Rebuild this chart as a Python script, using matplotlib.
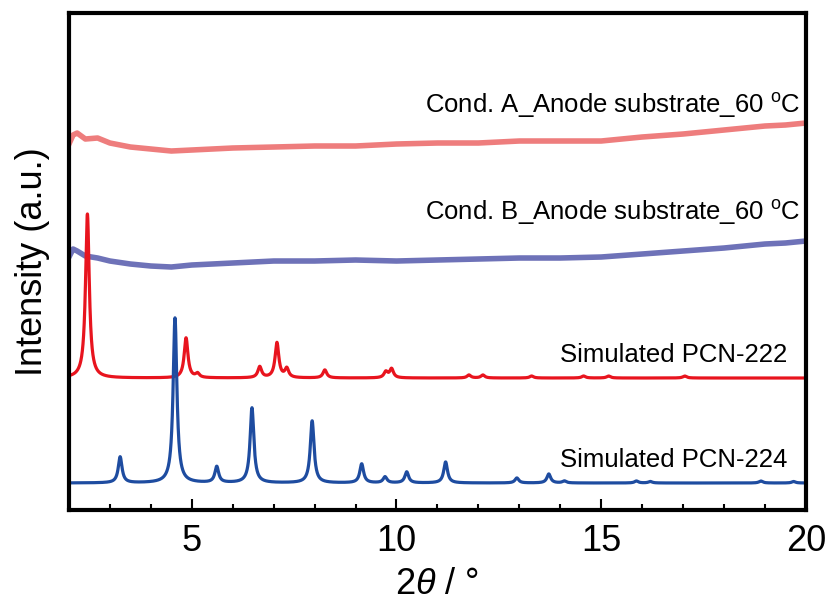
import numpy as np
import matplotlib
matplotlib.use("Agg")
import matplotlib.pyplot as plt
from matplotlib.ticker import MultipleLocator

plt.rcParams["font.family"] = ["Liberation Sans", "DejaVu Sans"]
plt.rcParams["mathtext.fontset"] = "custom"
plt.rcParams["mathtext.rm"] = "Liberation Sans"
plt.rcParams["mathtext.it"] = "Liberation Sans:italic"

cond_a_x = [2.0, 2.1, 2.2, 2.4, 2.7, 3.0, 3.5, 4.0, 4.5, 5.0, 5.5, 6.0, 7.0, 8.0, 9.0, 10.0,
            11.0, 12.0, 13.0, 14.0, 15.0, 16.0, 17.0, 18.0, 19.0, 19.5, 20.0]
cond_a_y = [366, 375, 377, 371, 372, 367, 363, 361, 359, 360, 361, 362, 363, 364, 364, 366,
            367, 367, 369, 369, 369, 373, 376, 380, 384, 385, 387]

cond_b_x = [2.0, 2.1, 2.2, 2.4, 2.7, 3.0, 3.5, 4.0, 4.5, 5.0, 5.5, 6.0, 7.0, 8.0, 9.0, 10.0,
            11.0, 12.0, 13.0, 14.0, 15.0, 16.0, 17.0, 18.0, 19.0, 19.5, 20.0]
cond_b_y = [253, 261, 259, 254, 252, 249, 246, 244, 243, 245, 246, 247, 249, 249, 250, 249,
            250, 251, 252, 252, 253, 256, 259, 262, 266, 267, 269]

# simulated patterns: baseline, peak positions and peak heights
pcn222_base = 132
pcn222_pos = [2.45, 4.86, 5.14, 6.66, 7.08, 7.32, 8.25, 9.74, 9.88,
              11.77, 12.11, 13.3, 14.57, 15.18, 17.04]
pcn222_h = [164, 40, 4, 11, 35, 9, 8, 6, 9, 3, 3, 2, 2, 2, 2]

pcn224_base = 27
pcn224_pos = [3.25, 4.59, 5.61, 6.47, 7.94, 9.15, 9.72, 10.25, 11.2,
              12.94, 13.72, 14.1, 15.86, 16.2, 18.9, 19.7]
pcn224_h = [26, 165, 16, 75, 62, 19, 6, 11, 21, 5, 9, 2, 2, 1.5, 2, 1.5]

labels = ["Cond. A_Anode substrate_60 $^{\\rm o}$C",
          "Cond. B_Anode substrate_60 $^{\\rm o}$C",
          "Simulated PCN-222",
          "Simulated PCN-224"]
label_x = [19.87, 19.87, 19.55, 19.55]
label_y = [405, 298, 155, 50]


def stick_pattern(pos, heights, base, hwhm=0.055):
    x = np.linspace(2, 20, 6000)
    y = np.full_like(x, float(base))
    for p, h in zip(pos, heights):
        y += h / (1 + ((x - p) / hwhm) ** 2)
    return x, y


fig = plt.figure(figsize=(8.28, 6.05), dpi=100)
ax = fig.add_axes([0.0833, 0.157, 0.890, 0.8215])

ax.plot(cond_a_x, cond_a_y, color="#EE7D7D", lw=4)
ax.plot(cond_b_x, cond_b_y, color="#6E72B8", lw=4)

x222, y222 = stick_pattern(pcn222_pos, pcn222_h, pcn222_base)
ax.plot(x222, y222, color="#E8141E", lw=2.3)
x224, y224 = stick_pattern(pcn224_pos, pcn224_h, pcn224_base)
ax.plot(x224, y224, color="#1E4CA0", lw=2.3)

for text, xx, yy in zip(labels, label_x, label_y):
    ax.text(xx, yy, text, ha="right", va="center", fontsize=18.5)

ax.set_xlim(2, 20)
ax.set_ylim(0, 497)
ax.xaxis.set_major_locator(MultipleLocator(5))
ax.xaxis.set_minor_locator(MultipleLocator(1))
ax.tick_params(axis="x", which="major", direction="in", length=8, width=1.5,
               labelsize=26, pad=10)
ax.tick_params(axis="x", which="minor", direction="in", length=4, width=1.5)
ax.set_yticks([])
for sp in ax.spines.values():
    sp.set_linewidth(3)

ax.set_xlabel("2$\\mathit{\\theta}$ / °", fontsize=26, labelpad=6)
ax.set_ylabel("Intensity (a.u.)", fontsize=26, labelpad=14)

fig.savefig("out.png", dpi=100)
